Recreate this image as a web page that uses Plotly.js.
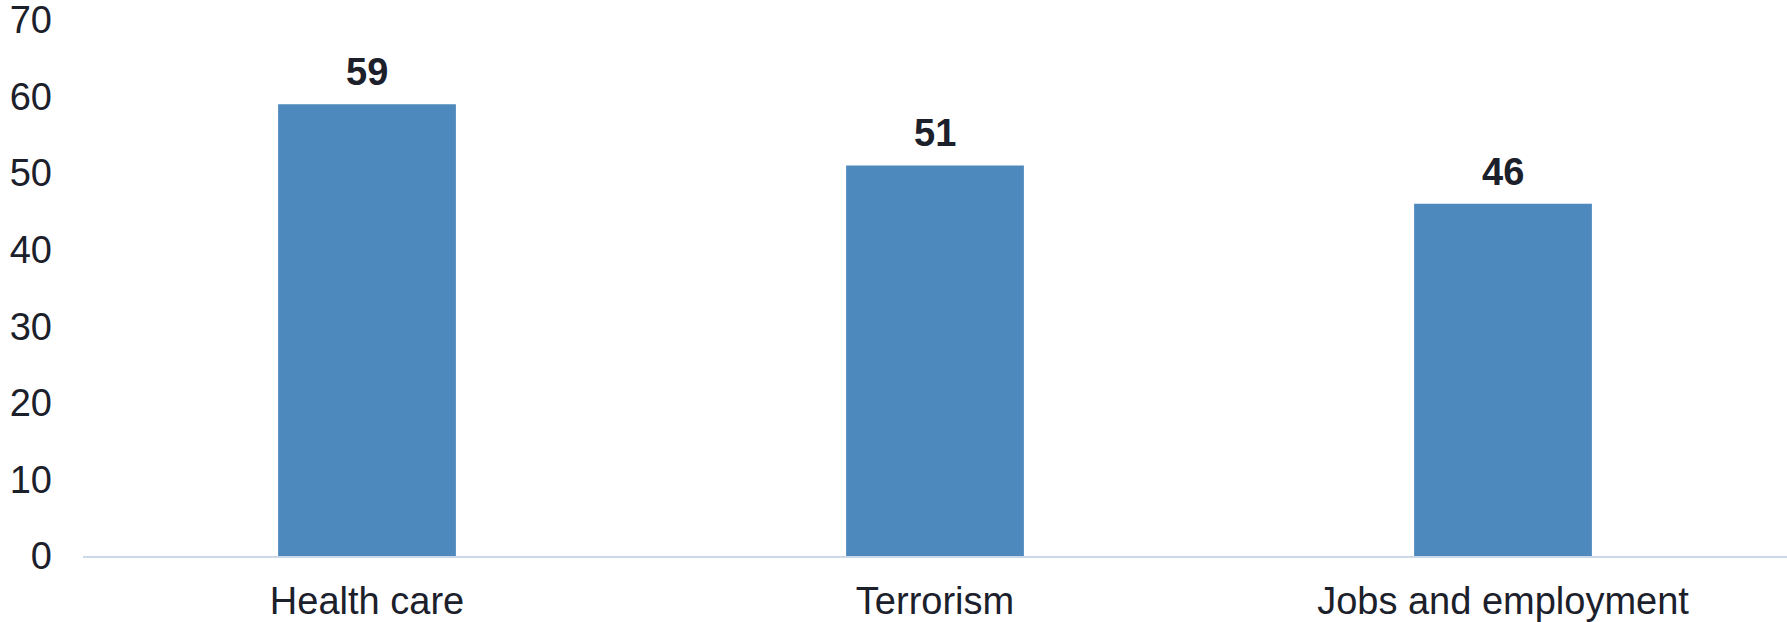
<!DOCTYPE html>
<html><head><meta charset="utf-8">
<script src="https://cdn.plot.ly/plotly-3.0.1.min.js"></script>
<style>html,body{margin:0;padding:0;background:#fff}#c{width:1787px;height:622px}</style>
</head><body><div id="c"></div>
<script>
const categories = ["Health care", "Terrorism", "Jobs and employment"];
const values = [59, 51, 46];
const yTicks = [0, 10, 20, 30, 40, 50, 60, 70];

const barColor = "#4d89bd";
const textColor = "#1b202b";

const trace = {
  type: "bar", x: categories, y: values,
  marker: {color: barColor, line: {width: 0}},
  hoverinfo: "none"
};
const annotations = categories.map((c, i) => ({
  x: c, y: values[i], text: "<b>" + values[i] + "</b>",
  showarrow: false, yanchor: "bottom", yshift: 9,
  font: {family: "Liberation Sans, Arial, sans-serif", size: 38, color: textColor}
}));
const layout = {
  width: 1787, height: 622,
  margin: {l: 83, r: 0, t: 20, b: 66},
  paper_bgcolor: "#fff", plot_bgcolor: "#fff",
  bargap: 0.687,
  showlegend: false,
  font: {family: "Liberation Sans, Arial, sans-serif", size: 38, color: textColor},
  xaxis: {
    showline: true, linecolor: "#cbd8e6", linewidth: 2,
    showgrid: false, zeroline: false, ticks: "", ticklabelstandoff: 10,
    tickfont: {size: 38, color: textColor}
  },
  yaxis: {
    range: [0, 70], tickvals: yTicks, ticktext: yTicks.map(String),
    showgrid: false, zeroline: false, showline: false, ticks: "",
    ticklabelstandoff: 30, ticklabeloverflow: "allow",
    tickfont: {size: 38, color: textColor}
  },
  annotations: annotations
};
Plotly.newPlot("c", [trace], layout, {staticPlot: true, displayModeBar: false});
</script></body></html>
